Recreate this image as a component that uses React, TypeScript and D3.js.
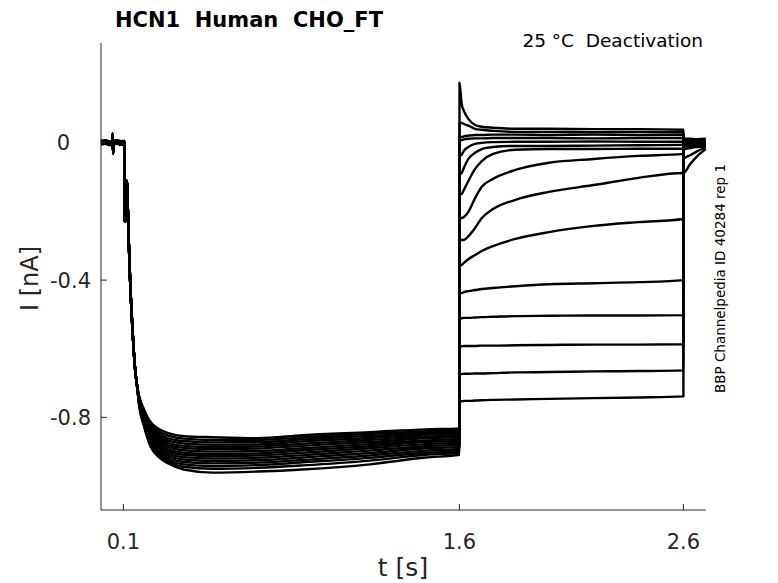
import React from "react";
import * as d3 from "d3";

// ---------- axis ticks ----------
const xTicks = [0.1, 1.6, 2.6];
const xTickLabels = ["0.1", "1.6", "2.6"];
const yTicks = [0, -0.4, -0.8];
const yTickLabels = ["0", "-0.4", "-0.8"];

// ---------- holding phase (shared shape, per-sweep level) ----------
const holdT = [0, 0.02, 0.04, 0.05, 0.052, 0.054, 0.056, 0.07, 0.09, 0.104];
const holdV = [0.0, 0.002, -0.002, 0.0, 0.022, -0.028, 0.0, 0.002, -0.001, 0.0];
const holdLevel = [0.006, 0.004, 0.002, 0.0, -0.002, -0.004, 0.005, 0.003, 0.001, -0.001, -0.003, -0.005, 0.004, -0.002, 0.0];

// ---------- activation onset (all sweeps overlap) ----------
const onsetT = [0.1045, 0.1055, 0.107, 0.108, 0.1156, 0.1223, 0.13, 0.141, 0.153, 0.16];
const onsetV = [0.0, -0.11, -0.23, -0.12, -0.11, -0.256, -0.402, -0.548, -0.665, -0.703];

// ---------- activation plateau, per sweep ----------
const actT = [0.171, 0.192, 0.216, 0.26, 0.3, 0.37, 0.5, 0.7, 0.9, 1.2, 1.45, 1.6];
const activationSweeps = [
  [-0.740, -0.777, -0.809, -0.835, -0.846, -0.855, -0.858, -0.861, -0.852, -0.843, -0.835, -0.832],
  [-0.744, -0.785, -0.820, -0.849, -0.861, -0.869, -0.873, -0.872, -0.864, -0.854, -0.845, -0.842],
  [-0.742, -0.781, -0.815, -0.842, -0.853, -0.862, -0.866, -0.866, -0.858, -0.848, -0.840, -0.837],
  [-0.748, -0.792, -0.831, -0.861, -0.874, -0.883, -0.887, -0.885, -0.877, -0.866, -0.856, -0.852],
  [-0.746, -0.788, -0.826, -0.855, -0.868, -0.876, -0.880, -0.879, -0.870, -0.860, -0.850, -0.847],
  [-0.752, -0.799, -0.841, -0.872, -0.886, -0.896, -0.900, -0.898, -0.890, -0.878, -0.867, -0.862],
  [-0.750, -0.795, -0.836, -0.866, -0.880, -0.889, -0.893, -0.891, -0.883, -0.872, -0.861, -0.857],
  [-0.756, -0.806, -0.851, -0.884, -0.899, -0.909, -0.913, -0.911, -0.903, -0.890, -0.878, -0.874],
  [-0.754, -0.802, -0.846, -0.878, -0.893, -0.903, -0.907, -0.905, -0.896, -0.884, -0.872, -0.868],
  [-0.760, -0.813, -0.861, -0.896, -0.912, -0.923, -0.927, -0.925, -0.917, -0.904, -0.890, -0.886],
  [-0.758, -0.810, -0.856, -0.890, -0.906, -0.916, -0.920, -0.918, -0.910, -0.897, -0.884, -0.880],
  [-0.764, -0.820, -0.870, -0.907, -0.925, -0.937, -0.942, -0.939, -0.931, -0.918, -0.903, -0.898],
  [-0.762, -0.817, -0.866, -0.902, -0.919, -0.930, -0.934, -0.932, -0.924, -0.911, -0.897, -0.892],
  [-0.766, -0.823, -0.874, -0.912, -0.930, -0.944, -0.950, -0.947, -0.940, -0.926, -0.909, -0.903],
  [-0.770, -0.826, -0.877, -0.917, -0.934, -0.952, -0.961, -0.958, -0.952, -0.937, -0.917, -0.909],
];

// ---------- deactivation tails, per sweep ----------
const tailT = [1.6005, 1.61, 1.62, 1.64, 1.67, 1.7, 1.75, 1.85, 2.0, 2.2, 2.4, 2.6];
const tailSweeps = [
  [0.175, 0.114, 0.093, 0.070, 0.052, 0.047, 0.044, 0.041, 0.041, 0.040, 0.040, 0.038],
  [0.058, 0.058, 0.055, 0.050, 0.041, 0.038, 0.035, 0.032, 0.032, 0.031, 0.032, 0.031],
  [0.015, 0.017, 0.019, 0.021, 0.023, 0.023, 0.024, 0.024, 0.023, 0.024, 0.023, 0.024],
  [0.006, 0.008, 0.010, 0.012, 0.013, 0.013, 0.014, 0.014, 0.014, 0.013, 0.014, 0.014],
  [-0.038, -0.035, -0.023, -0.012, -0.003, 0.000, 0.002, 0.003, 0.003, 0.004, 0.003, 0.003],
  [-0.091, -0.088, -0.073, -0.047, -0.029, -0.018, -0.012, -0.009, -0.009, -0.008, -0.007, -0.006],
  [-0.149, -0.149, -0.137, -0.111, -0.076, -0.053, -0.032, -0.020, -0.018, -0.018, -0.017, -0.017],
  [-0.219, -0.219, -0.216, -0.201, -0.161, -0.128, -0.105, -0.079, -0.058, -0.047, -0.038, -0.032],
  [-0.280, -0.283, -0.283, -0.272, -0.248, -0.219, -0.193, -0.166, -0.143, -0.123, -0.102, -0.088],
  [-0.359, -0.356, -0.350, -0.339, -0.327, -0.315, -0.301, -0.280, -0.260, -0.242, -0.231, -0.222],
  [-0.438, -0.438, -0.435, -0.432, -0.429, -0.426, -0.423, -0.418, -0.412, -0.409, -0.406, -0.400],
  [-0.511, -0.511, -0.510, -0.510, -0.509, -0.508, -0.507, -0.505, -0.504, -0.503, -0.503, -0.502],
  [-0.593, -0.593, -0.592, -0.592, -0.592, -0.591, -0.591, -0.590, -0.589, -0.588, -0.588, -0.587],
  [-0.674, -0.674, -0.673, -0.673, -0.672, -0.672, -0.671, -0.669, -0.668, -0.666, -0.665, -0.663],
  [-0.753, -0.753, -0.752, -0.752, -0.751, -0.750, -0.749, -0.748, -0.746, -0.744, -0.742, -0.739],
];

// ---------- return to holding, per sweep ----------
const retT = [2.6005, 2.63, 2.66, 2.7];
const returnSweeps = [
  [0.012, 0.012, 0.011, 0.012],
  [0.008, 0.008, 0.009, 0.008],
  [0.004, 0.005, 0.004, 0.005],
  [0.001, 0.001, 0.002, 0.001],
  [-0.003, -0.002, -0.003, -0.002],
  [-0.006, -0.006, -0.005, -0.006],
  [-0.012, -0.010, -0.009, -0.009],
  [-0.020, -0.015, -0.012, -0.011],
  [-0.088, -0.062, -0.040, -0.018],
  [-0.047, -0.036, -0.025, -0.012],
  [0.006, 0.006, 0.007, 0.006],
  [0.002, 0.003, 0.002, 0.003],
  [-0.001, 0.0, -0.001, 0.0],
  [0.010, 0.010, 0.010, 0.010],
  [-0.005, -0.004, -0.005, -0.004],
];

const title = "HCN1  Human  CHO_FT";
const subtitle = "25 °C  Deactivation";
const sideNote = "BBP Channelpedia ID 40284 rep 1";
const xLabel = "t [s]";
const yLabel = "I [nA]";

const W = 778;
const H = 583;
const FONT = "'DejaVu Sans', sans-serif";
const AX = "#262626";

export default function App() {
  const x = d3.scaleLinear().domain([0, 2.7]).range([101, 705.8]);
  const y = d3.scaleLinear().domain([-1.07, 0.291]).range([510, 43]);

  const line = d3
    .line<[number, number]>()
    .x((d) => x(d[0]))
    .y((d) => y(d[1]))
    .curve(d3.curveMonotoneX);

  const sweeps: [number, number][][] = activationSweeps.map((act, i) => {
    const pts: [number, number][] = [];
    holdT.forEach((t, k) => pts.push([t, holdV[k] + holdLevel[i]]));
    onsetT.forEach((t, k) => pts.push([t, onsetV[k]]));
    actT.forEach((t, k) => pts.push([t, act[k]]));
    tailT.forEach((t, k) => pts.push([t, tailSweeps[i][k]]));
    retT.forEach((t, k) => pts.push([t, returnSweeps[i][k]]));
    return pts;
  });

  const x0 = x.range()[0];
  const y0 = y.range()[0];
  const pre = { whiteSpace: "pre" as const };

  return (
    <svg
      width={W}
      height={H}
      style={{ position: "absolute", left: 0, top: 0, background: "#fff" }}
      fontFamily={FONT}
    >
      <rect width={W} height={H} fill="#fff" />
      {/* traces */}
      <g fill="none" stroke="#000" strokeWidth={2.4} strokeLinejoin="round">
        {sweeps.map((pts, i) => (
          <path key={i} d={line(pts) || ""} />
        ))}
      </g>

      {/* axes */}
      <g stroke={AX} strokeWidth={1} fill="none">
        <line x1={x0} x2={x0} y1={y.range()[1]} y2={y0} />
        <line x1={x0} x2={x.range()[1]} y1={y0} y2={y0} />
        {xTicks.map((t) => (
          <line key={"xt" + t} x1={x(t)} x2={x(t)} y1={y0} y2={y0 - 6} />
        ))}
        {yTicks.map((v) => (
          <line key={"yt" + v} x1={x0} x2={x0 + 6} y1={y(v)} y2={y(v)} />
        ))}
      </g>

      {/* tick labels */}
      <g fill={AX} fontSize={21}>
        {xTicks.map((t, i) => (
          <text key={"xl" + t} x={x(t)} y={549} textAnchor="middle">
            {xTickLabels[i]}
          </text>
        ))}
        {yTicks.map((v, i) => (
          <text
            key={"yl" + v}
            x={x0 - 10 - (yTickLabels[i] === "0" ? 21 : 0)}
            y={y(v) + 7.5}
            textAnchor="end"
          >
            {yTickLabels[i]}
          </text>
        ))}
      </g>

      {/* axis labels */}
      <text x={403} y={576} textAnchor="middle" fontSize={25} fill={AX}>
        {xLabel}
      </text>
      <text
        transform={`translate(38,${(y.range()[0] + y.range()[1]) / 2 + 2}) rotate(-90)`}
        textAnchor="middle"
        fontSize={24}
        fill={AX}
      >
        {yLabel}
      </text>

      {/* title and notes */}
      <text x={115} y={27} fontSize={21} fontWeight="bold" fill="#000" style={pre}>
        {title}
      </text>
      <text x={703} y={47} fontSize={18.5} textAnchor="end" fill="#000" style={pre}>
        {subtitle}
      </text>
      <text
        transform={`translate(725,278.5) rotate(-90)`}
        textAnchor="middle"
        fontSize={13.5}
        fill="#000"
      >
        {sideNote}
      </text>
    </svg>
  );
}
